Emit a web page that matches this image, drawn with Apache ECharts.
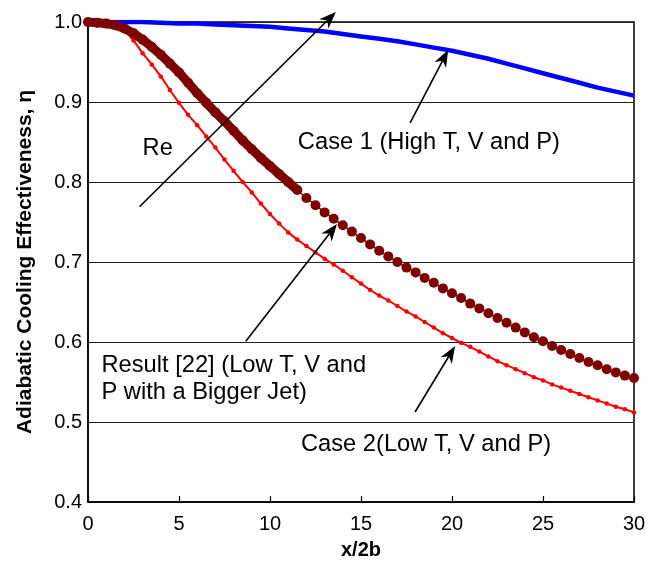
<!DOCTYPE html>
<html>
<head>
<meta charset="utf-8">
<script src="https://cdn.jsdelivr.net/npm/echarts@6/dist/echarts.min.js"></script>
<style>html,body{margin:0;padding:0;background:#fff;}#c{width:658px;height:566px;}</style>
</head>
<body>
<div id="c"></div>
<script>
// ---- Data ----
const xTicks = [0, 5, 10, 15, 20, 25, 30];
const yTicks = [0.4, 0.5, 0.6, 0.7, 0.8, 0.9, 1.0];

const case1X = [0,1,2,3,4,5,6,7,8,9,10,11,12,13,14,15,16,17,18,19,20,21,22,23,24,25,26,27,28,29,30];
const case1Y = [1.0,1.0,1.0,1.0,0.999,0.998,0.998,0.997,0.996,0.995,0.994,0.992,0.990,0.988,0.985,0.982,0.979,0.976,0.972,0.968,0.964,0.959,0.954,0.948,0.942,0.936,0.930,0.924,0.918,0.913,0.908];

const halfStepX = [0,0.5,1,1.5,2,2.5,3,3.5,4,4.5,5,5.5,6,6.5,7,7.5,8,8.5,9,9.5,10,10.5,11,11.5,12,12.5,13,13.5,14,14.5,15,15.5,16,16.5,17,17.5,18,18.5,19,19.5,20,20.5,21,21.5,22,22.5,23,23.5,24,24.5,25,25.5,26,26.5,27,27.5,28,28.5,29,29.5,30];

const case2Y = [1.0,1.0,1.0,0.997,0.99,0.977,0.961,0.947,0.932,0.915,0.899,0.884,0.871,0.857,0.843,0.828,0.814,0.800,0.787,0.773,0.760,0.748,0.737,0.728,0.720,0.712,0.704,0.697,0.689,0.681,0.673,0.665,0.658,0.652,0.645,0.638,0.632,0.625,0.618,0.611,0.605,0.599,0.594,0.588,0.582,0.576,0.571,0.566,0.561,0.556,0.552,0.547,0.543,0.539,0.535,0.531,0.527,0.523,0.519,0.516,0.512];

const result22Y = [1.0,0.999,0.998,0.996,0.992,0.986,0.978,0.969,0.959,0.948,0.937,0.924,0.911,0.899,0.887,0.876,0.864,0.852,0.841,0.830,0.820,0.810,0.800,0.790,0.780,0.771,0.762,0.754,0.746,0.738,0.730,0.722,0.714,0.707,0.700,0.693,0.687,0.680,0.674,0.667,0.661,0.655,0.648,0.642,0.636,0.630,0.624,0.618,0.612,0.606,0.601,0.595,0.590,0.585,0.580,0.575,0.571,0.566,0.562,0.558,0.555];

// Annotations (data coordinates)
const annoTexts = [
  {text: 'Re', at: [3.0, 0.8425]},
  {text: 'Case 1 (High T, V and P)', at: [11.53, 0.849]},
  {text: 'Result [22] (Low T, V and', at: [0.74, 0.571]},
  {text: 'P with a Bigger Jet)', at: [0.74, 0.5375]},
  {text: 'Case 2(Low T, V and P)', at: [11.70, 0.4725]}
];
const annoArrows = [
  {from: [2.83, 0.769], to: [13.62, 1.0125]},
  {from: [17.70, 0.874], to: [19.79, 0.965]},
  {from: [8.67, 0.601], to: [13.68, 0.7475]},
  {from: [17.97, 0.5125], to: [20.17, 0.595]}
];

// ---- Chart ----
const FONT = 'Liberation Sans, Arial, sans-serif';
const pair = (xs, ys) => xs.map((x, i) => [x, ys[i]]);
const chart = echarts.init(document.getElementById('c'), null, {renderer: 'canvas'});

const option = {
  animation: false,
  backgroundColor: '#fff',
  grid: {left: 88, right: 24, top: 22, bottom: 64, show: true, borderColor: '#000', borderWidth: 1.5},
  xAxis: {
    type: 'value', min: xTicks[0], max: xTicks[xTicks.length - 1], interval: 5,
    name: 'x/2b', nameLocation: 'middle', nameGap: 38,
    nameTextStyle: {fontFamily: FONT, fontSize: 20, fontWeight: 'bold', color: '#000'},
    axisLine: {lineStyle: {color: '#000', width: 1.5}},
    axisTick: {show: true, inside: true, length: 6, lineStyle: {color: '#000', width: 1.2}},
    axisLabel: {fontFamily: FONT, fontSize: 20, color: '#000', margin: 12},
    splitLine: {show: false}
  },
  yAxis: {
    type: 'value', min: yTicks[0], max: yTicks[yTicks.length - 1], interval: 0.1,
    name: 'Adiabatic Cooling Effectiveness, η', nameLocation: 'middle', nameGap: 52,
    nameTextStyle: {fontFamily: FONT, fontSize: 21, fontWeight: 'bold', color: '#000'},
    axisLine: {lineStyle: {color: '#000', width: 1.5}},
    axisTick: {show: false},
    axisLabel: {fontFamily: FONT, fontSize: 20, color: '#000', margin: 6, formatter: v => v.toFixed(1)},
    splitLine: {show: true, lineStyle: {color: '#222', width: 1.2}}
  },
  series: [
    {
      name: 'Case 1', type: 'line', data: pair(case1X, case1Y), showSymbol: false,
      lineStyle: {color: '#0000ff', width: 4.5}, itemStyle: {color: '#0000ff'}, z: 3
    },
    {
      name: 'Case 2', type: 'line', data: pair(halfStepX, case2Y), symbol: 'circle', symbolSize: 4.5,
      lineStyle: {color: '#ff0000', width: 2}, itemStyle: {color: '#ff0000'}, z: 4
    },
    {
      name: 'Result [22] band', type: 'line', data: pair(halfStepX, result22Y).filter(p => p[0] <= 11.5),
      showSymbol: false, lineStyle: {color: '#7f0000', width: 9, cap: 'round'}, z: 5
    },
    {
      name: 'Result [22]', type: 'line', data: pair(halfStepX, result22Y), symbol: 'circle', symbolSize: 10,
      lineStyle: {color: '#7f0000', width: 1.5}, itemStyle: {color: '#7f0000'}, z: 5
    }
  ]
};
chart.setOption(option);

function drawAnnotations() {
  const toPx = p => chart.convertToPixel({gridIndex: 0}, p);
  const elements = [];
  annoTexts.forEach(t => {
    const p = toPx(t.at);
    elements.push({
      type: 'text', x: p[0], y: p[1], z: 20,
      style: {text: t.text, fill: '#000', font: '23.7px ' + FONT, textAlign: 'left', textVerticalAlign: 'middle'}
    });
  });
  annoArrows.forEach(a => {
    const s = toPx(a.from), e = toPx(a.to);
    const dx = e[0] - s[0], dy = e[1] - s[1];
    const len = Math.sqrt(dx * dx + dy * dy);
    const ux = dx / len, uy = dy / len, nx = -uy, ny = ux;
    const L = 17, W = 6.5, N = 12;
    const back = [e[0] - ux * N, e[1] - uy * N];
    elements.push({
      type: 'line', z: 20,
      shape: {x1: s[0], y1: s[1], x2: back[0], y2: back[1]},
      style: {stroke: '#000', lineWidth: 1.6}
    });
    elements.push({
      type: 'polygon', z: 21,
      shape: {points: [
        e,
        [e[0] - ux * L + nx * W, e[1] - uy * L + ny * W],
        back,
        [e[0] - ux * L - nx * W, e[1] - uy * L - ny * W]
      ]},
      style: {fill: '#000'}
    });
  });
  chart.setOption({graphic: {elements: elements}});
}
drawAnnotations();
</script>
</body>
</html>
